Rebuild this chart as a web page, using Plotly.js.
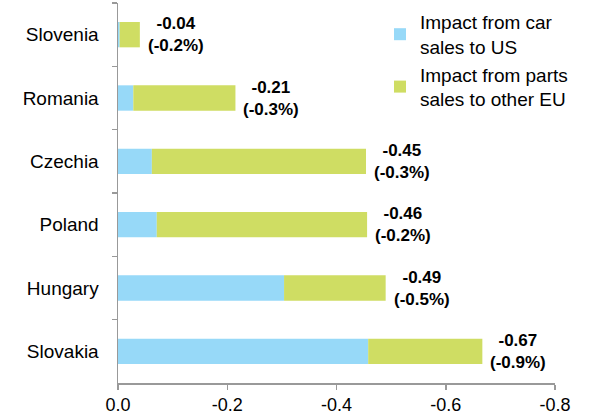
<!DOCTYPE html>
<html>
<head>
<meta charset="utf-8">
<script src="https://cdn.plot.ly/plotly-3.0.1.min.js"></script>
<style>html,body{margin:0;padding:0;background:#fff;}#chart{width:591px;height:414px;}</style>
</head>
<body>
<div id="chart"></div>
<script>
const countries = ['Slovenia', 'Romania', 'Czechia', 'Poland', 'Hungary', 'Slovakia'];
const carSalesUS = [-0.003, -0.028, -0.062, -0.071, -0.304, -0.458];
const partsSalesEU = [-0.037, -0.187, -0.392, -0.385, -0.186, -0.209];
const totalLabels = ['-0.04', '-0.21', '-0.45', '-0.46', '-0.49', '-0.67'];
const pctLabels = ['(-0.2%)', '(-0.3%)', '(-0.3%)', '(-0.2%)', '(-0.5%)', '(-0.9%)'];
const seriesNames = ['Impact from car<br>sales to US', 'Impact from parts<br>sales to other EU'];
const xTickVals = [0, -0.2, -0.4, -0.6, -0.8];
const xTickText = ['0.0', '-0.2', '-0.4', '-0.6', '-0.8'];

const font = 'Liberation Sans, Arial, sans-serif';

const traces = [
  {type: 'bar', orientation: 'h', y: countries, x: carSalesUS, name: seriesNames[0],
   marker: {color: '#97d9f8'}, hoverinfo: 'none'},
  {type: 'bar', orientation: 'h', y: countries, x: partsSalesEU, name: seriesNames[1],
   marker: {color: '#cfdd63'}, hoverinfo: 'none'}
];

const annotations = countries.map((c, i) => ({
  x: carSalesUS[i] + partsSalesEU[i], y: c, xref: 'x', yref: 'y',
  text: '<b>' + totalLabels[i] + '</b><br><b>' + pctLabels[i] + '</b>',
  showarrow: false, xanchor: 'left', yanchor: 'middle', align: 'center', xshift: 6,
  font: {family: font, size: 17, color: '#000'}
}));

const layout = {
  width: 591, height: 414,
  margin: {l: 118, r: 36, t: 3, b: 31, pad: 0},
  paper_bgcolor: '#fff', plot_bgcolor: '#fff',
  barmode: 'relative', bargap: 0.6,
  font: {family: font, size: 18, color: '#000'},
  xaxis: {range: [0, -0.8], tickvals: xTickVals, ticktext: xTickText,
    showgrid: false, zeroline: false, showline: true, linecolor: '#999', linewidth: 1.5,
    ticks: 'outside', ticklen: 5, tickcolor: '#999', tickwidth: 1.5,
    tickfont: {family: font, size: 18, color: '#000'}},
  yaxis: {type: 'category', autorange: 'reversed', showgrid: false, zeroline: false,
    showline: true, linecolor: '#999', linewidth: 1.5,
    ticks: 'outside', tickson: 'boundaries', ticklen: 5, tickcolor: '#999', tickwidth: 1.5,
    ticklabelstandoff: 14, tickfont: {family: font, size: 19, color: '#000'}},
  showlegend: true,
  legend: {x: 0.5995, y: 1, xanchor: 'left', yanchor: 'top', bgcolor: 'rgba(0,0,0,0)',
    font: {family: font, size: 19, color: '#000'}, traceorder: 'normal', tracegroupgap: 2},
  annotations: annotations
};

Plotly.newPlot('chart', traces, layout, {displayModeBar: false, staticPlot: true});
</script>
</body>
</html>
